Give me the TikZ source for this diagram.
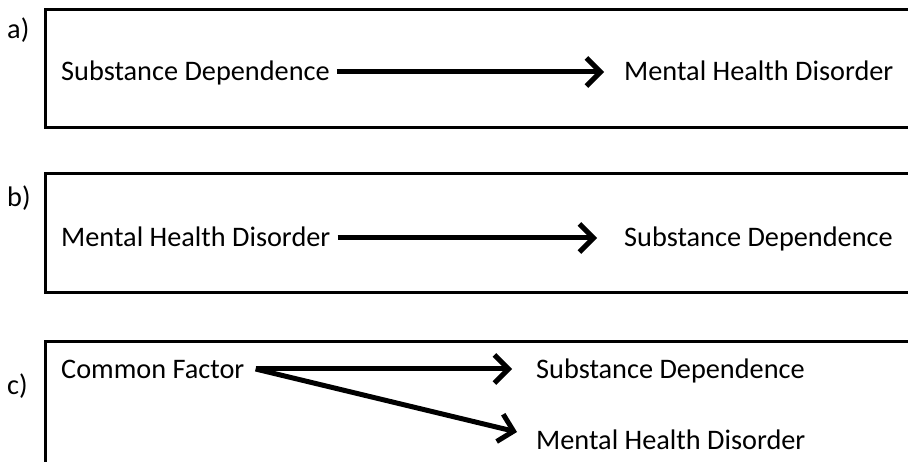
\documentclass[tikz,border=0pt]{standalone}
\usepackage{fontspec}
\setmainfont{Carlito}
\usepackage{tikz}
\usetikzlibrary{arrows.meta,positioning}
\tikzset{>={Straight Barb[length=14pt,width=28pt,line width=5pt]},
  every node/.style={font=\fontsize{28.3}{33}\selectfont,inner sep=0pt,anchor=base west},
  panel/.style={draw,line width=3pt},
  link/.style={->,line width=5pt}}

\begin{document}
\begin{tikzpicture}[x=1pt,y=-1pt]
    \clip (0,0) rectangle (908,462);
    % panels
    \draw[panel] (920,10) -- (45,10) -- (45,128) -- (920,128);
    \draw[panel] (920,174) -- (45,174) -- (45,293) -- (920,293);
    \draw[panel] (920,342) -- (45,342) -- (45,480);
    \node (la) at (7,39) {a)};
    \node (lb) at (7,207) {b)};
    \node (lc) at (7,395) {c)};
    % a)
    \node (sda) at (61,81) {Substance Dependence};
    \node (mha) at (624,81) {Mental Health Disorder};
    \draw[link] ([xshift=7]sda.east |- 0,72) -- ([xshift=-20]mha.west |- 0,72);
    % b)
    \node (mhb) at (61,247) {Mental Health Disorder};
    \node (sdb) at (624,247) {Substance Dependence};
    \draw[link] ([xshift=7]mhb.east |- 0,238) -- ([xshift=-27]sdb.west |- 0,238);
    % c)
    \node (cf) at (61,379) {Common Factor};
    \node (sdc) at (536,379) {Substance Dependence};
    \node (mhc) at (536,449) {Mental Health Disorder};
    \coordinate (fork) at ([xshift=11]cf.east |- 0,369);
    \draw[link] (fork) -- ([xshift=-24]sdc.west |- 0,369);
    \draw[link] (fork) -- ([xshift=-19]mhc.west |- 0,432);
\end{tikzpicture}
\end{document}
